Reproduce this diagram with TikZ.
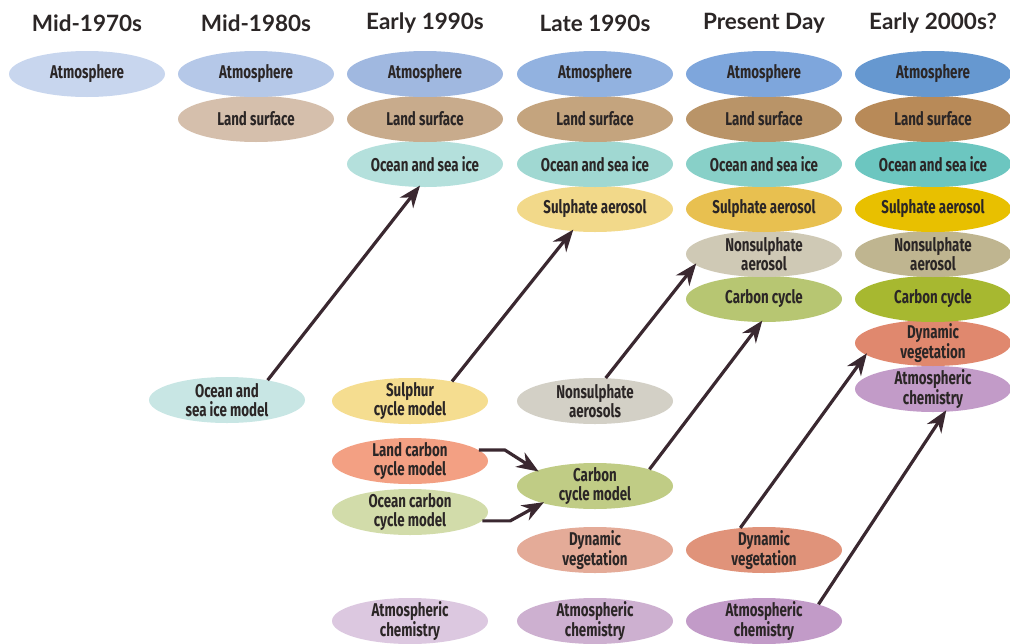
\documentclass[tikz,border=0pt]{standalone}
\usepackage{fontspec}
\usetikzlibrary{shapes.geometric,arrows.meta}
\newfontfamily\hdrfont{Lato}
\newfontfamily\ellfont{Fira Sans}[FakeStretch=0.72]
\definecolor{txt}{HTML}{2B2626}
\definecolor{arr}{HTML}{3A2830}
% column 1
\definecolor{aA}{HTML}{C8D6EE}
% column 2
\definecolor{bA}{HTML}{B5C8E8}\definecolor{bL}{HTML}{D5BFAC}
% column 3
\definecolor{cA}{HTML}{A0B8E0}\definecolor{cL}{HTML}{C8AB8C}\definecolor{cO}{HTML}{B4E0DC}
% column 4
\definecolor{dA}{HTML}{92B2E0}\definecolor{dL}{HTML}{C4A47E}\definecolor{dO}{HTML}{A0D8D2}\definecolor{dS}{HTML}{F2D98A}
% column 5
\definecolor{eA}{HTML}{7EA6DC}\definecolor{eL}{HTML}{B99468}\definecolor{eO}{HTML}{88D0C8}\definecolor{eS}{HTML}{E8C050}
\definecolor{eN}{HTML}{CFC9B5}\definecolor{eC}{HTML}{B7C672}
% column 6
\definecolor{fA}{HTML}{6698D0}\definecolor{fL}{HTML}{B88A58}\definecolor{fO}{HTML}{6CC6C0}\definecolor{fS}{HTML}{E8C000}
\definecolor{fN}{HTML}{BFB590}\definecolor{fC}{HTML}{A7B830}\definecolor{fD}{HTML}{E0886E}\definecolor{fX}{HTML}{C29BC8}
% lower models
\definecolor{mO}{HTML}{C8E6E4}\definecolor{mS}{HTML}{F5DD90}\definecolor{mN}{HTML}{D3D0C6}
\definecolor{mLC}{HTML}{F3A083}\definecolor{mOC}{HTML}{D2DCAA}\definecolor{mC}{HTML}{C0CC85}
\definecolor{mD4}{HTML}{E4AB98}\definecolor{mD5}{HTML}{E0937A}
\definecolor{mX3}{HTML}{DCC8E0}\definecolor{mX4}{HTML}{CDB0D0}\definecolor{mX5}{HTML}{C29BC8}
\begin{document}
\begin{tikzpicture}[x=1pt,y=-1pt,
  hdr/.style={font=\hdrfont\bfseries\fontsize{22.5}{26}\selectfont, text=txt, anchor=center},
  comp/.style={ellipse, fill=#1, draw=none, minimum width=156pt, minimum height=46pt,
    inner xsep=-14pt, inner ysep=-12pt, align=center, text=txt,
    font=\ellfont\bfseries\fontsize{18.5}{19}\selectfont},
  link/.style={draw=arr, line width=3.2pt, -{Stealth[length=22pt,width=17pt,inset=7pt]}, shorten >=-2pt}
]
\useasboundingbox (0,0) rectangle (1010,643);
% headers
\node[hdr] (h1) at (87,23) {Mid-1970s};
\node[hdr] (h2) at (256,23) {Mid-1980s};
\node[hdr] (h3) at (425,23) {Early 1990s};
\node[hdr] (h4) at (595,23) {Late 1990s};
\node[hdr] (h5) at (764,23) {Present Day};
\node[hdr] (h6) at (933,23) {Early 2000s?};
% column 1
\node[comp=aA] (a1) at (87,74) {Atmosphere};
% column 2
\node[comp=bL] (b2) at (256,119) {Land surface};
\node[comp=bA] (b1) at (256,74) {Atmosphere};
% column 3
\node[comp=cO] (c3) at (425,164) {Ocean and sea ice};
\node[comp=cL] (c2) at (425,119) {Land surface};
\node[comp=cA] (c1) at (425,74) {Atmosphere};
% column 4
\node[comp=dS] (d4) at (595,209) {Sulphate aerosol};
\node[comp=dO] (d3) at (595,164) {Ocean and sea ice};
\node[comp=dL] (d2) at (595,119) {Land surface};
\node[comp=dA] (d1) at (595,74) {Atmosphere};
% column 5
\node[comp=eC] (e6) at (764,299) {Carbon cycle};
\node[comp=eN] (e5) at (764,254) {Nonsulphate\\aerosol};
\node[comp=eS] (e4) at (764,209) {Sulphate aerosol};
\node[comp=eO] (e3) at (764,164) {Ocean and sea ice};
\node[comp=eL] (e2) at (764,119) {Land surface};
\node[comp=eA] (e1) at (764,74) {Atmosphere};
% column 6
\node[comp=fX] (f8) at (933,389) {Atmospheric\\chemistry};
\node[comp=fD] (f7) at (933,343) {Dynamic\\vegetation};
\node[comp=fC] (f6) at (933,299) {Carbon cycle};
\node[comp=fN] (f5) at (933,254) {Nonsulphate\\aerosol};
\node[comp=fS] (f4) at (933,209) {Sulphate aerosol};
\node[comp=fO] (f3) at (933,164) {Ocean and sea ice};
\node[comp=fL] (f2) at (933,119) {Land surface};
\node[comp=fA] (f1) at (933,74) {Atmosphere};
% lower models
\node[comp=mO] (mosi) at (227,400) {Ocean and\\sea ice model};
\node[comp=mS] (msul) at (410,401) {Sulphur\\cycle model};
\node[comp=mN] (mnon) at (595,401) {Nonsulphate\\aerosols};
\node[comp=mLC] (mlc) at (410,461) {Land carbon\\cycle model};
\node[comp=mOC] (moc) at (410,512) {Ocean carbon\\cycle model};
\node[comp=mC] (mcc) at (595,486) {Carbon\\cycle model};
\node[comp=mD4] (mdv4) at (595,550) {Dynamic\\vegetation};
\node[comp=mD5] (mdv5) at (764,550) {Dynamic\\vegetation};
\node[comp=mX3] (mac3) at (410,621) {Atmospheric\\chemistry};
\node[comp=mX4] (mac4) at (595,621) {Atmospheric\\chemistry};
\node[comp=mX5] (mac5) at (764,621) {Atmospheric\\chemistry};
% arrows
\draw[link] (mosi.26) -- (c3.-105);
\draw[link] (msul.25) -- (d4.-136);
\draw[link] (mnon.65) -- (e5.-171);
\draw[link] (mcc.17) -- (e6.-97);
\draw[link] (mdv5.137) -- (f7.-170);
\draw[link] (mac5.17) -- (f8.-62);
\draw[link] (mlc.9) -- ++(26,0) -- (mcc.165);
\draw[link] (moc.-7) -- ++(28,0) -- (mcc.-162);
\end{tikzpicture}
\end{document}
